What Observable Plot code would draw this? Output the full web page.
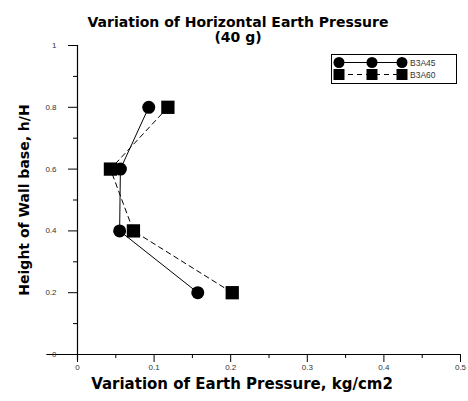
<!DOCTYPE html>
<html>
<head>
<meta charset="utf-8">
<script src="https://cdn.jsdelivr.net/npm/d3@7"></script>
<script src="https://cdn.jsdelivr.net/npm/@observablehq/plot@0.6"></script>
<style>
  body { margin: 0; background: #fff; }
  #wrap { position: relative; width: 468px; height: 401px; }
  #legend { position: absolute; left: 331px; top: 54px; }
</style>
</head>
<body>
<div id="wrap"></div>
<script>
const heights = [0.8, 0.6, 0.4, 0.2];
const b3a45 = [0.093, 0.056, 0.055, 0.157];
const b3a60 = [0.118, 0.043, 0.073, 0.202];
const seriesNames = ["B3A45", "B3A60"];
const xMajorTicks = [0, 0.1, 0.2, 0.3, 0.4, 0.5];
const xMinorTicks = [0.05, 0.15, 0.25, 0.35, 0.45];
const yMajorTicks = [0, 0.2, 0.4, 0.6, 0.8, 1];
const yMinorTicks = [0.1, 0.3, 0.5, 0.7, 0.9];
const titleLines = ["Variation of Horizontal Earth Pressure", "(40 g)"];
const xLabel = "Variation of Earth Pressure, kg/cm2";
const yLabel = "Height of Wall base, h/H";

const d45 = heights.map((h, i) => ({h, p: b3a45[i]}));
const d60 = heights.map((h, i) => ({h, p: b3a60[i]}));
const fmt = d => String(d);
const boldFont = "DejaVu Sans, Verdana, sans-serif";

const plot = Plot.plot({
  width: 468,
  height: 401,
  marginLeft: 77,
  marginRight: 8,
  marginTop: 45,
  marginBottom: 47,
  style: {fontFamily: "Liberation Sans, Arial, sans-serif", background: "#fff", color: "#000"},
  x: {domain: [0, 0.5]},
  y: {domain: [0, 1]},
  marks: [
    Plot.ruleX([0], {y1: -0.02, y2: 1, stroke: "#000", strokeWidth: 1.2}),
    Plot.ruleY([0], {x1: -0.04, x2: 0.5, stroke: "#000", strokeWidth: 1.2}),
    Plot.axisY(yMajorTicks, {tickSize: 9, tickPadding: 12, tickFormat: fmt, fontSize: 8, fill: "#333", stroke: "#000", label: null}),
    Plot.axisY(yMinorTicks, {tickSize: 4, tickFormat: () => "", stroke: "#000", label: null}),
    Plot.axisX(xMajorTicks, {tickSize: 8, tickPadding: 2, tickFormat: fmt, fontSize: 8, fill: "#333", stroke: "#000", label: null}),
    Plot.axisX(xMinorTicks, {tickSize: 4, tickFormat: () => "", stroke: "#000", label: null}),
    Plot.line(d45, {x: "p", y: "h", stroke: "#000", strokeWidth: 1}),
    Plot.line(d60, {x: "p", y: "h", stroke: "#000", strokeWidth: 1, strokeDasharray: "5,4"}),
    Plot.dot(d45, {x: "p", y: "h", r: 6.5, fill: "#000", symbol: "circle"}),
    Plot.dot(d60, {x: "p", y: "h", r: 7.5, fill: "#000", symbol: "square"}),
    Plot.text([titleLines[0]], {frameAnchor: "top", dy: -28, dx: -31, fontSize: 14, fontWeight: "bold", fontFamily: boldFont, fill: "#000"}),
    Plot.text([titleLines[1]], {frameAnchor: "top", dy: -13, dx: -31, fontSize: 14, fontWeight: "bold", fontFamily: boldFont, fill: "#000"}),
    Plot.text([xLabel], {frameAnchor: "bottom", dy: 34, dx: -27, fontSize: 15, fontWeight: "bold", fontFamily: boldFont, fill: "#000"}),
    Plot.text([yLabel], {frameAnchor: "left", textAnchor: "middle", dx: -53, dy: 0, rotate: -90, fontSize: 14, fontWeight: "bold", fontFamily: boldFont, fill: "#000"})
  ]
});
document.getElementById("wrap").appendChild(plot);

// Legend
const leg = d3.select("#wrap").append("svg").attr("id", "legend").attr("width", 127).attr("height", 31);
leg.append("rect").attr("x", 0.5).attr("y", 0.5).attr("width", 125).attr("height", 29).attr("fill", "#fff").attr("stroke", "#000");
const rows = [{y: 8.5, dash: null, sym: "circle"}, {y: 20.5, dash: "5,4", sym: "square"}];
const mx = [8, 41, 71];
rows.forEach((r, i) => {
  leg.append("line").attr("x1", mx[0]).attr("x2", mx[2]).attr("y1", r.y).attr("y2", r.y)
    .attr("stroke", "#000").attr("stroke-dasharray", r.dash);
  mx.forEach(x => {
    if (r.sym === "circle") leg.append("circle").attr("cx", x).attr("cy", r.y).attr("r", 5.5).attr("fill", "#000");
    else leg.append("rect").attr("x", x - 5.5).attr("y", r.y - 5.5).attr("width", 11).attr("height", 11).attr("fill", "#000");
  });
  leg.append("text").attr("x", 79).attr("y", r.y + 3).attr("font-size", 8.5)
    .attr("font-family", "Liberation Sans, Arial, sans-serif").attr("fill", "#333").text(seriesNames[i]);
});
</script>
</body>
</html>
